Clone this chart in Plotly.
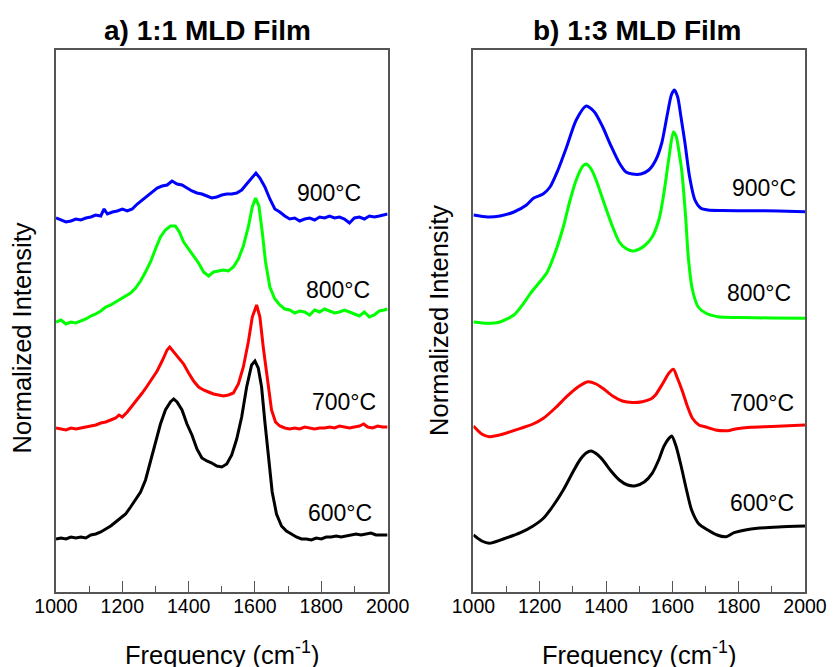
import plotly.graph_objects as go

# ---------------- Panel a) 1:1 MLD film (noisy spectra) ----------------
a_freq_900 = [1000, 1015, 1030, 1045, 1060, 1075, 1090, 1105, 1120, 1135, 1145, 1155, 1170, 1185, 1200, 1215,
              1230, 1245, 1260, 1275, 1290, 1305, 1320, 1335, 1350, 1365, 1380, 1395, 1410, 1425, 1440, 1455,
              1470, 1485, 1500, 1515, 1530, 1545, 1560, 1575, 1590, 1603, 1615, 1630, 1645, 1660, 1675, 1690,
              1705, 1720, 1735, 1750, 1765, 1780, 1795, 1810, 1825, 1840, 1855, 1870, 1885, 1900, 1915, 1930,
              1945, 1960, 1975, 1990, 2000]
a_int_900 = [374, 372, 370, 371, 373, 372, 374, 375, 377, 376, 383, 378, 380, 381, 383, 381,
             383, 388, 392, 396, 400, 404, 406, 407, 411, 408, 407, 404, 401, 399, 398, 396,
             394, 395, 397, 398, 398, 399, 402, 408, 414, 419, 414, 405, 393, 383, 380, 376,
             373, 374, 371, 373, 374, 372, 375, 374, 376, 374, 375, 373, 369, 374, 375, 373,
             376, 375, 376, 377, 378]

a_freq_800 = [1000, 1015, 1030, 1045, 1060, 1075, 1090, 1105, 1120, 1135, 1150, 1165, 1180, 1195, 1210, 1225,
              1240, 1255, 1270, 1285, 1300, 1315, 1330, 1345, 1360, 1372, 1385, 1400, 1415, 1430, 1445, 1460,
              1475, 1490, 1505, 1520, 1535, 1550, 1565, 1580, 1592, 1602, 1612, 1622, 1632, 1645, 1660, 1675,
              1690, 1705, 1720, 1735, 1750, 1765, 1780, 1795, 1810, 1825, 1840, 1855, 1870, 1885, 1900, 1915,
              1930, 1945, 1960, 1975, 1990, 2000]
a_int_800 = [270, 272, 268, 270, 269, 271, 273, 276, 278, 281, 285, 287, 290, 293, 296, 299,
             304, 311, 320, 330, 343, 355, 362, 366, 366, 360, 350, 343, 336, 329, 320, 316,
             320, 321, 322, 321, 325, 333, 346, 365, 385, 394, 386, 360, 330, 305, 293, 287,
             283, 282, 279, 281, 280, 277, 282, 280, 283, 281, 279, 280, 282, 280, 278, 276,
             280, 275, 277, 281, 282, 283]

a_freq_700 = [1000, 1015, 1030, 1045, 1060, 1075, 1090, 1105, 1120, 1135, 1150, 1165, 1180, 1190, 1200, 1215,
              1230, 1245, 1260, 1275, 1290, 1305, 1320, 1335, 1343, 1355, 1370, 1385, 1400, 1415, 1430, 1445,
              1460, 1475, 1490, 1505, 1520, 1535, 1550, 1565, 1580, 1592, 1605, 1615, 1625, 1637, 1650, 1662,
              1675, 1690, 1705, 1720, 1735, 1750, 1765, 1780, 1795, 1810, 1825, 1840, 1855, 1870, 1885, 1900,
              1915, 1928, 1940, 1955, 1970, 1985, 2000]
a_int_700 = [164, 163, 162, 164, 163, 164, 165, 166, 167, 169, 170, 172, 174, 177, 175, 180,
             186, 192, 199, 206, 213, 221, 231, 242, 245, 240, 234, 228, 219, 211, 205, 202,
             200, 198, 197, 196, 197, 199, 208, 225, 250, 275, 287, 275, 245, 212, 182, 170,
             166, 164, 163, 164, 163, 165, 164, 163, 164, 164, 165, 164, 166, 165, 164, 165,
             166, 168, 165, 164, 166, 165, 165]

a_freq_600 = [1000, 1015, 1030, 1045, 1060, 1075, 1090, 1105, 1120, 1135, 1150, 1165, 1180, 1195, 1210, 1225,
              1240, 1255, 1270, 1285, 1300, 1315, 1330, 1345, 1355, 1365, 1380, 1395, 1410, 1425, 1440, 1455,
              1470, 1485, 1500, 1515, 1530, 1545, 1560, 1575, 1590, 1600, 1610, 1620, 1630, 1640, 1652, 1665,
              1680, 1695, 1710, 1725, 1740, 1755, 1770, 1785, 1800, 1815, 1830, 1845, 1860, 1875, 1890, 1905,
              1920, 1935, 1950, 1965, 1980, 2000]
a_int_600 = [53, 54, 53, 55, 54, 55, 54, 57, 58, 60, 63, 66, 70, 74, 78, 85,
             92, 100, 112, 130, 148, 168, 182, 190, 193, 190, 182, 168, 157, 143, 134, 131,
             129, 126, 125, 128, 137, 153, 175, 205, 227, 231, 224, 205, 170, 135, 100, 78,
             66, 61, 58, 55, 53, 53, 52, 54, 53, 55, 55, 56, 55, 56, 57, 58,
             57, 58, 59, 57, 57, 57]

# ---------------- Panel b) 1:3 MLD film (smooth spectra) ----------------
b_freq_900 = [1000, 1043, 1080, 1122, 1160, 1182, 1210, 1231, 1255, 1281, 1310, 1340, 1365, 1390, 1415, 1440,
              1460, 1479, 1505, 1529, 1550, 1568, 1585, 1597, 1606, 1616, 1626, 1638, 1652, 1668, 1685, 1707,
              1750, 1836, 1920, 2000]
b_int_900 = [377, 375, 376, 380, 387, 394, 398, 405, 422, 445, 472, 486, 480, 465, 446, 429,
             420, 418, 418, 422, 432, 449, 478, 497, 502, 495, 475, 449, 415, 392, 384, 382,
             381.5, 381.3, 381, 380.3]

b_freq_800 = [1000, 1043, 1080, 1122, 1150, 1172, 1200, 1221, 1245, 1271, 1290, 1310, 1330, 1340, 1355, 1370,
              1395, 1420, 1440, 1459, 1480, 1494, 1515, 1539, 1560, 1574, 1590, 1603, 1612, 1620, 1628, 1640,
              1648, 1660, 1678, 1700, 1737, 1800, 1900, 2000]
b_int_800 = [270, 268.7, 270, 277, 288, 298.7, 310, 319, 338, 365, 390, 412, 426, 428, 423, 412,
             388, 365, 350, 343.7, 341, 342, 346, 355, 373, 398, 435, 460, 455, 440, 422, 375,
             335, 303, 285, 279, 275.3, 274.5, 274, 273.7]

b_freq_700 = [1000, 1025, 1048, 1090, 1142, 1180, 1211, 1250, 1281, 1315, 1345, 1370, 1390, 1420, 1449, 1480,
              1509, 1535, 1549, 1570, 1590, 1603, 1615, 1630, 1645, 1660, 1680, 1698, 1730, 1767, 1790, 1836,
              1900, 2000]
b_int_700 = [166, 158, 155.3, 158, 163.7, 168, 173.7, 185, 195.3, 205, 210.3, 208, 203.7, 196, 191, 189.5,
             190.3, 193, 197, 208, 219, 222.7, 214, 201, 186, 174, 167, 165.3, 162, 161.3, 163, 164.7,
             165.5, 167]

b_freq_600 = [1000, 1025, 1048, 1090, 1142, 1180, 1211, 1240, 1271, 1300, 1321, 1340, 1355, 1372, 1390, 1415,
              1440, 1465, 1489, 1515, 1539, 1560, 1574, 1588, 1598, 1610, 1625, 1642, 1658, 1680, 1707, 1735,
              1762, 1786, 1820, 1856, 1920, 2000]
b_int_600 = [57, 51, 48.7, 53, 59.3, 66, 73.7, 86, 102, 120, 132, 139, 141, 138, 132, 121,
             112, 107, 106.3, 110, 118.7, 133, 145.3, 153, 156, 147, 128, 103, 82, 68, 62, 57,
             55.3, 59.3, 62, 63.7, 65, 66]

temps = ["900\u00b0C", "800\u00b0C", "700\u00b0C", "600\u00b0C"]
colors = ["#0000FF", "#00FF00", "#FF0000", "#000000"]

a_series = [(a_freq_900, a_int_900), (a_freq_800, a_int_800), (a_freq_700, a_int_700), (a_freq_600, a_int_600)]
b_series = [(b_freq_900, b_int_900), (b_freq_800, b_int_800), (b_freq_700, b_int_700), (b_freq_600, b_int_600)]

x_ticks = [1000, 1200, 1400, 1600, 1800, 2000]

fig = go.Figure()
for (fx, iy), c, t in zip(a_series, colors, temps):
    fig.add_trace(go.Scatter(x=fx, y=iy, mode="lines", line=dict(color=c, width=3),
                             name=t, xaxis="x", yaxis="y", showlegend=False))
for (fx, iy), c, t in zip(b_series, colors, temps):
    fig.add_trace(go.Scatter(x=fx, y=iy, mode="lines", line=dict(color=c, width=3, shape="spline", smoothing=0.7),
                             name=t, xaxis="x2", yaxis="y2", showlegend=False))

FONT = "Arial, Liberation Sans, sans-serif"
axis_common = dict(range=[1000, 2000], tickvals=x_ticks, ticktext=[str(v) for v in x_ticks],
                   ticks="inside", ticklen=11, tickwidth=1.2, tickcolor="#555",
                   minor=dict(ticks="inside", ticklen=6, tickwidth=1.2, tickcolor="#555", dtick=100, tick0=1000),
                   showline=True, linecolor="#555", linewidth=1.5, mirror=True,
                   showgrid=False, zeroline=False, ticklabelstandoff=-4,
                   tickfont=dict(family=FONT, size=19.5, color="#000"))
yaxis_common = dict(range=[0, 542], showticklabels=False, ticks="", showgrid=False, zeroline=False,
                    showline=True, linecolor="#555", linewidth=1.5, mirror=True)

fig.update_layout(
    width=839, height=667,
    margin=dict(l=56, r=24, t=50, b=75),
    paper_bgcolor="white", plot_bgcolor="white",
    xaxis=dict(domain=[0, 336 / 759], anchor="y", **axis_common),
    yaxis=dict(domain=[0, 1], anchor="x", **yaxis_common),
    xaxis2=dict(domain=[423 / 759, 1], anchor="y2", **axis_common),
    yaxis2=dict(domain=[0, 1], anchor="x2", **yaxis_common),
)

pw, ph = 759, 542


def px_to_paper(px, py):
    return (px - 56) / pw, (592 - py) / ph


anns = []
for text, (px, py) in [("<b>a) 1:1 MLD Film</b>", (210, 30)), ("<b>b) 1:3 MLD Film</b>", (645, 30))]:
    xx, yy = px_to_paper(px, py)
    anns.append(dict(text=text, x=xx, y=yy, xref="paper", yref="paper", showarrow=False,
                     xanchor="center", yanchor="middle", font=dict(family=FONT, size=28, color="#000")))

for text, (px, py), ang in [("Frequency (cm<sup>-1</sup>)", (224, 653), 0), ("Frequency (cm<sup>-1</sup>)", (647, 653), 0),
                            ("Normalized Intensity", (22, 338), -90), ("Normalized Intensity", (444, 320), -90)]:
    xx, yy = px_to_paper(px, py)
    anns.append(dict(text=text, x=xx, y=yy, xref="paper", yref="paper", showarrow=False, textangle=ang,
                     xanchor="center", yanchor="middle", font=dict(family=FONT, size=25.5, color="#000")))

a_label_pos = [(1824, 399), (1850, 302), (1870, 190), (1855, 79)]
b_label_pos = [(1876, 404), (1861, 299), (1871, 189), (1871, 89)]
for t, (fx, iy) in zip(temps, a_label_pos):
    anns.append(dict(text=t, x=fx, y=iy, xref="x", yref="y", showarrow=False, xanchor="center", yanchor="middle",
                     font=dict(family=FONT, size=23, color="#000")))
for t, (fx, iy) in zip(temps, b_label_pos):
    anns.append(dict(text=t, x=fx, y=iy, xref="x2", yref="y2", showarrow=False, xanchor="center", yanchor="middle",
                     font=dict(family=FONT, size=23, color="#000")))

fig.update_layout(annotations=anns)
fig.write_html("out.html")
